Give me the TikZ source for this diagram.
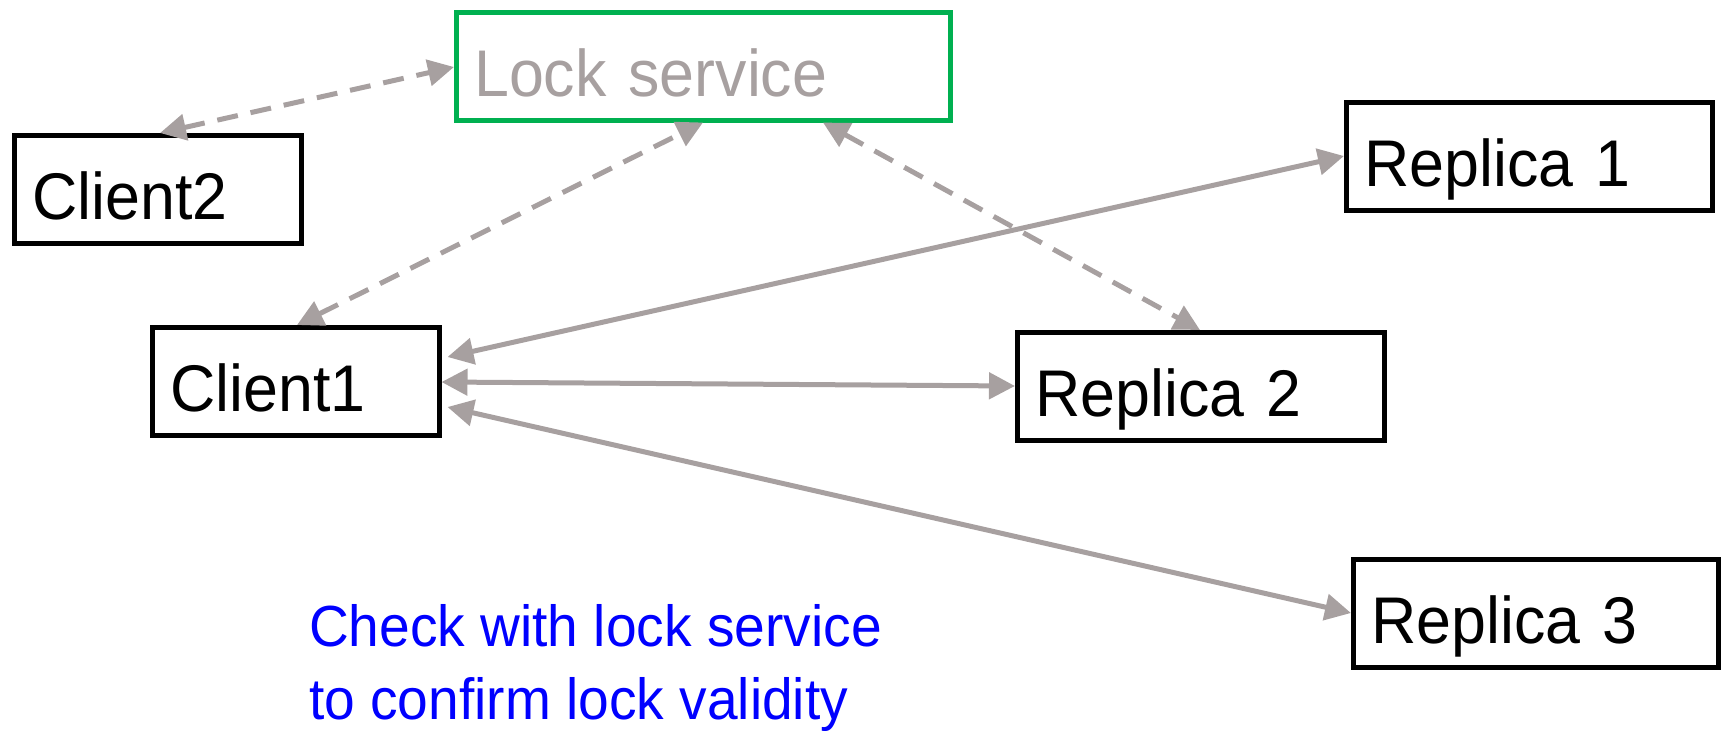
\documentclass[tikz,border=0pt]{standalone}
\usepackage{fontspec}
\setmainfont[FakeStretch=0.95]{Liberation Sans}
\usetikzlibrary{arrows.meta}

\definecolor{linegray}{RGB}{167,160,160}
\definecolor{lockgreen}{RGB}{0,176,80}
\definecolor{noteblue}{RGB}{0,0,255}

\newcommand\boxfont{\fontsize{66}{79}\selectfont}
\newcommand\notefont{\fontsize{58}{73}\selectfont}

\tikzset{
  boxnode/.style={draw=black, line width=4.5pt, anchor=north west,
    inner xsep=18pt, inner ysep=0pt, text height=84.5pt, text depth=23.5pt,
    align=left, font=\boxfont},
  lockbox/.style={boxnode, draw=lockgreen, text=linegray},
  link/.style={draw=linegray, line width=5pt,
    {Triangle[length=26pt,width=26pt]}-{Triangle[length=26pt,width=26pt]}},
  dlink/.style={link, dash pattern=on 21pt off 13pt},
  note/.style={text=noteblue, font=\notefont, align=left, inner sep=0pt}
}

\begin{document}
\begin{tikzpicture}[x=1pt, y=-1pt]
  \useasboundingbox (0,0) rectangle (1722,731);

  % boxes
  \node[lockbox, text width=458pt] (lock) at (454,10) {Lock service};
  \node[boxnode, text width=251pt] (c2) at (12,133) {Client2};
  \node[boxnode, text width=251pt] (c1) at (150,325) {Client1};
  \node[boxnode, text width=330pt] (r1) at (1344,100) {Replica 1};
  \node[boxnode, text width=331pt] (r2) at (1015,330) {Replica 2};
  \node[boxnode, text width=329pt] (r3) at (1351,557) {Replica 3};

  % lock service traffic
  \draw[dlink] ([xshift=148pt]c2.north west) -- ([yshift=-57pt]lock.north west);
  \draw[dlink] ([xshift=147pt]c1.north west) -- ([xshift=249pt]lock.south west);
  \draw[dlink] ([xshift=369pt]lock.south west) -- ([xshift=185pt]r2.north west);

  % replica traffic
  \draw[link] ([xshift=6pt,yshift=-32pt]c1.north east) -- ([yshift=-56pt]r1.north west);
  \draw[link] ([yshift=-57pt]c1.north east) -- ([yshift=-56pt]r2.north west);
  \draw[link] ([xshift=6pt,yshift=-82pt]c1.north east) -- ([yshift=-56pt]r3.north west);

  % caption (anchored on the baseline of its last line)
  \node[note, anchor=base west] (note) at (309,719)
    {Check with lock service\\to confirm lock validity};
\end{tikzpicture}
\end{document}
